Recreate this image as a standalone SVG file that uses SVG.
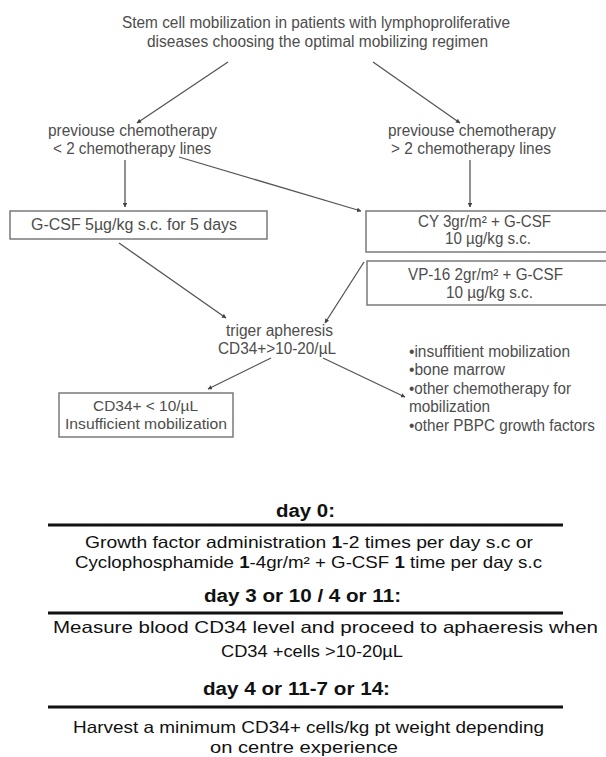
<svg xmlns="http://www.w3.org/2000/svg" width="606" height="757" viewBox="0 0 606 757">
<style>
.t{font-family:"Liberation Sans",Arial,sans-serif;font-size:16px;fill:#4d4d4d;text-anchor:middle}
.s{font-size:15px}
.l{text-anchor:start}
.b{font-family:"Liberation Sans",Arial,sans-serif;font-size:16.5px;fill:#111;text-anchor:middle}
.h{font-weight:bold;font-size:17.5px}
.box{fill:#fff;stroke:#7a7a7a;stroke-width:1.5}
.c{stroke:#555;stroke-width:1.3;fill:none;marker-end:url(#ah)}
.rule{stroke:#111;stroke-width:3}
</style>
<defs>
<marker id="ah" viewBox="0 0 10 10" refX="9" refY="5" markerWidth="3.5" markerHeight="3.5" orient="auto" markerUnits="strokeWidth">
<path d="M0,0 L10,5 L0,10 z" fill="#444"/>
</marker>
</defs>
<rect width="606" height="757" fill="#fff"/>
<g id="connectors">
<line class="c" x1="228" y1="62" x2="137" y2="123"/>
<line class="c" x1="373" y1="62" x2="460" y2="123"/>
<line class="c" x1="125" y1="160" x2="125" y2="207"/>
<line class="c" x1="470" y1="160" x2="470" y2="207"/>
<line class="c" x1="179" y1="157" x2="361" y2="211"/>
<line class="c" x1="119" y1="243" x2="226" y2="318"/>
<line class="c" x1="364" y1="262" x2="325" y2="323"/>
<line class="c" x1="271" y1="358" x2="208" y2="389"/>
<line class="c" x1="323" y1="358" x2="405" y2="397"/>
</g>
<g id="title">
<text class="t" x="316" y="28" textLength="388" lengthAdjust="spacingAndGlyphs">Stem cell mobilization in patients with lymphoproliferative</text>
<text class="t" x="317.5" y="47" textLength="341" lengthAdjust="spacingAndGlyphs">diseases choosing the optimal mobilizing regimen</text>
</g>
<g id="prev-less">
<text class="t" x="132.5" y="136" textLength="169" lengthAdjust="spacingAndGlyphs">previouse chemotherapy</text>
<text class="t" x="132" y="154" textLength="158" lengthAdjust="spacingAndGlyphs">&lt; 2 chemotherapy lines</text>
</g>
<g id="prev-more">
<text class="t" x="472" y="136" textLength="168" lengthAdjust="spacingAndGlyphs">previouse chemotherapy</text>
<text class="t" x="471" y="154" textLength="160" lengthAdjust="spacingAndGlyphs">&gt; 2 chemotherapy lines</text>
</g>
<g id="gcsf">
<rect class="box" x="10" y="211" width="257" height="28"/>
<text class="t" x="134" y="230" textLength="206" lengthAdjust="spacingAndGlyphs">G-CSF 5µg/kg s.c. for 5 days</text>
</g>
<g id="cy">
<rect class="box" x="366" y="211" width="250" height="41"/>
<text class="t" x="484.5" y="227" textLength="133" lengthAdjust="spacingAndGlyphs">CY 3gr/m² + G-CSF</text>
<text class="t" x="488" y="244" textLength="86" lengthAdjust="spacingAndGlyphs">10 µg/kg s.c.</text>
</g>
<g id="vp16">
<rect class="box" x="367" y="261" width="250" height="44"/>
<text class="t" x="485.5" y="280" textLength="155" lengthAdjust="spacingAndGlyphs">VP-16 2gr/m² + G-CSF</text>
<text class="t" x="489.5" y="298" textLength="87" lengthAdjust="spacingAndGlyphs">10 µg/kg s.c.</text>
</g>
<g id="trigger">
<text class="t" x="279.5" y="336" textLength="107" lengthAdjust="spacingAndGlyphs">triger apheresis</text>
<text class="t" x="277" y="354" textLength="118" lengthAdjust="spacingAndGlyphs">CD34+&gt;10-20/µL</text>
</g>
<g id="insufficient">
<rect class="box" x="59" y="393" width="174" height="44"/>
<text class="t s" x="145.5" y="411" textLength="105" lengthAdjust="spacingAndGlyphs">CD34+ &lt; 10/µL</text>
<text class="t s" x="146" y="428.5" textLength="162" lengthAdjust="spacingAndGlyphs">Insufficient mobilization</text>
</g>
<g id="options">
<text class="t l" x="409" y="357" textLength="161" lengthAdjust="spacingAndGlyphs">•insuffitient mobilization</text>
<text class="t l" x="409" y="375" textLength="96" lengthAdjust="spacingAndGlyphs">•bone marrow</text>
<text class="t l" x="409" y="394" textLength="162" lengthAdjust="spacingAndGlyphs">•other chemotherapy for</text>
<text class="t l" x="409" y="412" textLength="81" lengthAdjust="spacingAndGlyphs">mobilization</text>
<text class="t l" x="409" y="431" textLength="186" lengthAdjust="spacingAndGlyphs">•other PBPC growth factors</text>
</g>
<g id="day0">
<text class="b h" x="305.5" y="517" textLength="59" lengthAdjust="spacingAndGlyphs">day 0:</text>
<line class="rule" x1="48" y1="525" x2="563" y2="525"/>
<text class="b" x="309" y="548" textLength="448" lengthAdjust="spacingAndGlyphs">Growth factor administration <tspan font-weight="bold">1</tspan>-2 times per day s.c or</text>
<text class="b" x="308.5" y="568" textLength="467" lengthAdjust="spacingAndGlyphs">Cyclophosphamide <tspan font-weight="bold">1</tspan>-4gr/m² + G-CSF <tspan font-weight="bold">1</tspan> time per day s.c</text>
</g>
<g id="day3">
<text class="b h" x="302.5" y="602" textLength="197" lengthAdjust="spacingAndGlyphs">day 3 or 10 / 4 or 11:</text>
<line class="rule" x1="48" y1="613" x2="563" y2="613"/>
<text class="b" x="325.5" y="633" textLength="545" lengthAdjust="spacingAndGlyphs">Measure blood CD34 level and proceed to aphaeresis when</text>
<text class="b" x="312" y="657" textLength="182" lengthAdjust="spacingAndGlyphs">CD34 +cells &gt;10-20µL</text>
</g>
<g id="day4">
<text class="b h" x="296.5" y="695" textLength="187" lengthAdjust="spacingAndGlyphs">day 4 or 11-7 or 14:</text>
<line class="rule" x1="48" y1="707" x2="563" y2="707"/>
<text class="b" x="308.5" y="733" textLength="471" lengthAdjust="spacingAndGlyphs">Harvest a minimum CD34+ cells/kg pt weight depending</text>
<text class="b" x="304" y="753" textLength="188" lengthAdjust="spacingAndGlyphs">on centre experience</text>
</g>
</svg>
